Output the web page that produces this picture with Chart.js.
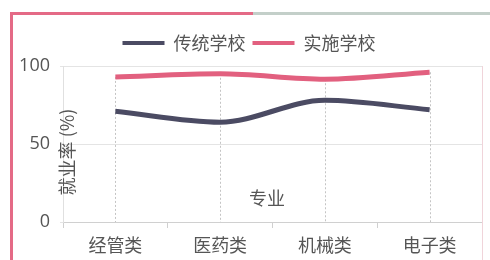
<!DOCTYPE html>
<html><head><meta charset="utf-8">
<script src="https://cdn.jsdelivr.net/npm/chart.js@4"></script>
<style>
html,body{margin:0;padding:0;background:#fff;}
#wrap{position:relative;width:490px;height:260px;overflow:hidden;background:#fff;}
#c{position:absolute;left:0;top:0;}
.b{position:absolute;}
</style></head><body>
<div id="wrap">
<canvas id="c" width="490" height="260"></canvas>
<div class="b" style="left:10px;top:12px;width:243px;height:3px;background:#e46a86;"></div>
<div class="b" style="left:253px;top:12px;width:237px;height:3px;background:#c3cfc9;"></div>
<div class="b" style="left:10px;top:12px;width:3px;height:248px;background:#e46a86;"></div>
</div>
<script>
const categories = ['经管类', '医药类', '机械类', '电子类'];
const traditional = [71, 64, 78, 72];
const implemented = [93, 95, 91.5, 96];
const seriesNames = ['传统学校', '实施学校'];
const yTicks = [0, 50, 100];
const yTitle = '就业率 (%)';
const xTitle = '专业';

const DARK = '#4b4b63', PINK = '#e2607f', TXT = '#555555';

const dropLines = {
  id: 'dropLines',
  beforeDatasetsDraw(chart) {
    const {ctx, scales: {x, y}} = chart;
    ctx.save();
    ctx.strokeStyle = '#c4c4c4';
    ctx.lineWidth = 1;
    ctx.setLineDash([2, 2]);
    categories.forEach((c, i) => {
      const top = Math.max(traditional[i], implemented[i]);
      const px = Math.round(x.getPixelForValue(i)) + 0.5;
      ctx.beginPath();
      ctx.moveTo(px, y.getPixelForValue(top));
      ctx.lineTo(px, y.getPixelForValue(0));
      ctx.stroke();
    });
    ctx.restore();
  },
  afterDatasetsDraw(chart) {
    const {ctx, chartArea} = chart;
    ctx.save();
    ctx.fillStyle = TXT;
    ctx.font = '18px "Noto Sans CJK SC"';
    ctx.textAlign = 'center';
    ctx.textBaseline = 'middle';
    ctx.fillText(xTitle, 267, 198);
    ctx.translate(67, 152);
    ctx.rotate(-Math.PI / 2);
    ctx.fillText(yTitle, 0, 0);
    ctx.restore();
    ctx.save();
    ctx.strokeStyle = '#f0d4da';
    ctx.lineWidth = 1;
    ctx.beginPath();
    ctx.moveTo(Math.round(chartArea.right) + 0.5, chartArea.top);
    ctx.lineTo(Math.round(chartArea.right) + 0.5, 260);
    ctx.stroke();
    ctx.restore();
  }
};

new Chart(document.getElementById('c'), {
  type: 'line',
  data: {
    labels: categories,
    datasets: [
      {label: seriesNames[0], data: traditional, borderColor: DARK, backgroundColor: DARK, borderWidth: 5, tension: 0.4, pointRadius: 0, cubicInterpolationMode: 'monotone'},
      {label: seriesNames[1], data: implemented, borderColor: PINK, backgroundColor: PINK, borderWidth: 5, tension: 0.4, pointRadius: 0, cubicInterpolationMode: 'monotone'}
    ]
  },
  options: {
    responsive: false,
    animation: false,
    devicePixelRatio: 1,
    layout: {padding: {left: 16, right: 8, top: 27, bottom: 0}},
    plugins: {
      tooltip: {enabled: false},
      title: {display: true, text: '', position: 'top', weight: 500, padding: {top: 3, bottom: 0}, font: {size: 1, lineHeight: 1}},
      legend: {
        position: 'top',
        labels: {
          color: TXT,
          font: {size: 18, family: '"Noto Sans CJK SC"'},
          boxWidth: 42, boxHeight: 4, padding: 7,
          generateLabels(chart) {
            return chart.data.datasets.map((d, i) => ({
              text: d.label, fillStyle: d.borderColor, strokeStyle: d.borderColor,
              lineWidth: 0, hidden: false, datasetIndex: i, fontColor: TXT
            }));
          }
        }
      }
    },
    scales: {
      x: {
        offset: true,
        grid: {offset: true, drawOnChartArea: false, drawTicks: true, tickLength: 6, color: '#d0d0d0'},
        border: {color: '#d0d0d0'},
        ticks: {color: TXT, font: {size: 18, family: '"Noto Sans CJK SC"'}, padding: 6, maxRotation: 0},
        afterFit(s) { s.height = 38; }
      },
      y: {
        min: 0, max: 100,
        afterBuildTicks(s) { s.ticks = yTicks.map(v => ({value: v})); },
        grid: {color: '#e4e4e4', tickLength: 3, drawTicks: true},
        border: {color: '#e0e0e0'},
        ticks: {color: TXT, font: {size: 18, family: '"Open Sans"'}, padding: 10},
        afterFit(s) { s.width = 47; }
      }
    }
  },
  plugins: [dropLines]
});
</script>
</body></html>
